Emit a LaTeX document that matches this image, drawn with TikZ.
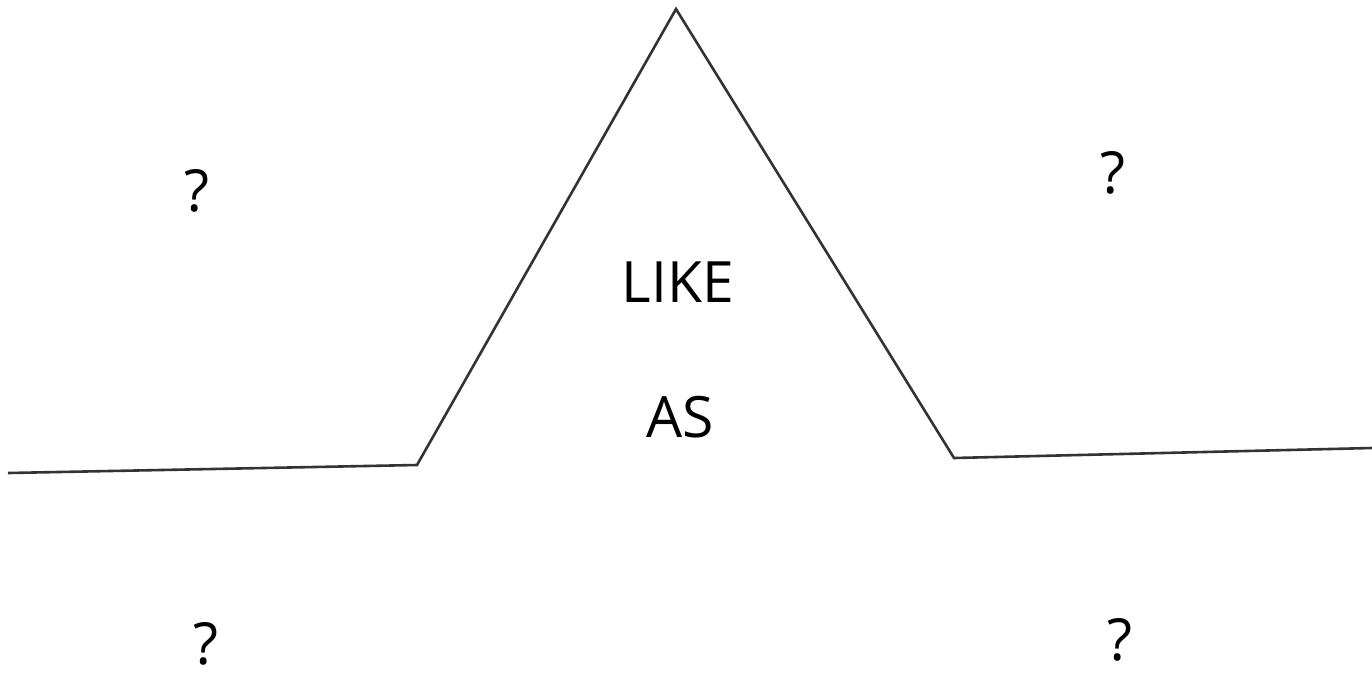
\documentclass[tikz,border=0pt]{standalone}
\usepackage{fontspec}
\setmainfont{Open Sans}
\begin{document}
\begin{tikzpicture}[x=1pt,y=-1pt,
  outline/.style={draw=black!80,line width=2.6pt,line join=miter},
  word/.style={font=\fontsize{57}{60}\selectfont,inner sep=0pt,text=black},
  qmark/.style={font=\fontsize{58}{60}\selectfont,inner sep=0pt,text=black}]
\useasboundingbox (0,0) rectangle (1372,680);
\coordinate (l0) at (8,473);
\coordinate (l1) at (417,465);
\coordinate (apex) at (676,9);
\coordinate (r1) at (954,458);
\coordinate (r0) at (1372,448);
\draw[outline] (l0) -- (l1) -- (apex) -- (r1) -- (r0);
\node[word] (like) at (678,282.5) {LIKE};
\node[word] (as) at (680,417) {AS};
\node[qmark] (q1) at (197,190.5) {?};
\node[qmark] (q2) at (1113,173) {?};
\node[qmark] (q3) at (206,644) {?};
\node[qmark] (q4) at (1120,640) {?};
\end{tikzpicture}
\end{document}
